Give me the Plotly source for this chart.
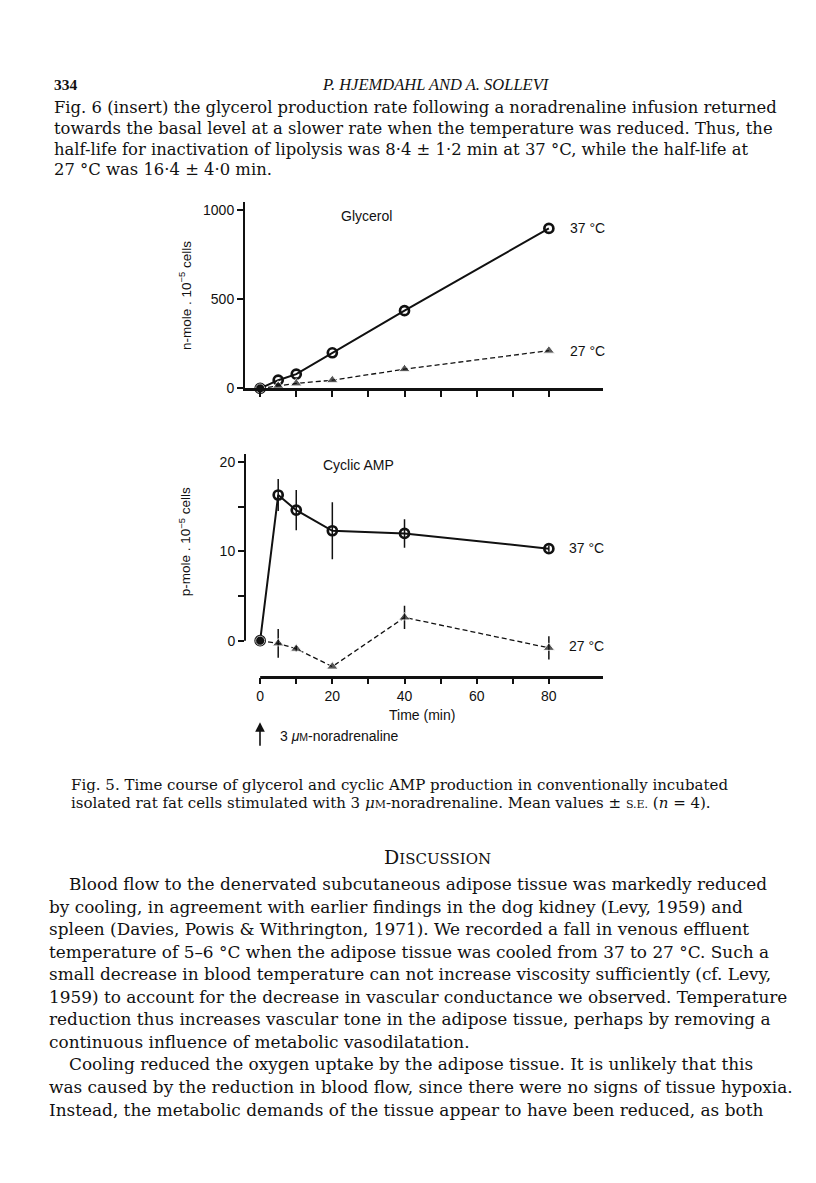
import plotly.graph_objects as go

W, H = 816, 1183

# ---------------- data ----------------
time_min = [0, 5, 10, 20, 40, 80]
glycerol_37 = [0, 46, 80, 200, 436, 898]
glycerol_27 = [0, 15, 28, 46, 108, 212]

camp_37 = [0, 16.3, 14.6, 12.3, 12.0, 10.3]
camp_37_se = [0, 1.8, 2.25, 3.2, 1.6, 0.35]
camp_27 = [0, -0.3, -0.9, -2.9, 2.6, -0.8]
camp_27_se = [0, 1.6, 0.3, 0, 1.3, 1.3]

x_tick_vals = [0, 10, 20, 30, 40, 50, 60, 70, 80]
x_tick_text = ["0", "", "20", "", "40", "", "60", "", "80"]
gly_tick_vals = [0, 500, 1000]
camp_tick_vals = [0, 5, 10, 15, 20]
camp_tick_text = ["0", "", "10", "", "20"]

header_left = "334"
header_title = "P. HJEMDAHL AND A. SOLLEVI"
top_para = [
    "Fig. 6 (insert) the glycerol production rate following a noradrenaline infusion returned",
    "towards the basal level at a slower rate when the temperature was reduced. Thus, the",
    "half-life for inactivation of lipolysis was 8·4 ± 1·2 min at 37 °C, while the half-life at",
    "27 °C was 16·4 ± 4·0 min.",
]
caption = [
    "Fig. 5. Time course of glycerol and cyclic AMP production in conventionally incubated",
    "isolated rat fat cells stimulated with 3 <i>μ</i><span style='font-size:11px'>M</span>-noradrenaline. Mean values ± <span style='font-size:11px'>S.E.</span> (<i>n</i> = 4).",
]
section = "D<span style='font-size:15px'>ISCUSSION</span>"
body = [
    ("Blood flow to the denervated subcutaneous adipose tissue was markedly reduced", True),
    ("by cooling, in agreement with earlier findings in the dog kidney (Levy, 1959) and", False),
    ("spleen (Davies, Powis & Withrington, 1971). We recorded a fall in venous effluent", False),
    ("temperature of 5–6 °C when the adipose tissue was cooled from 37 to 27 °C. Such a", False),
    ("small decrease in blood temperature can not increase viscosity sufficiently (cf. Levy,", False),
    ("1959) to account for the decrease in vascular conductance we observed. Temperature", False),
    ("reduction thus increases vascular tone in the adipose tissue, perhaps by removing a", False),
    ("continuous influence of metabolic vasodilatation.", False),
    ("Cooling reduced the oxygen uptake by the adipose tissue. It is unlikely that this", True),
    ("was caused by the reduction in blood flow, since there were no signs of tissue hypoxia.", False),
    ("Instead, the metabolic demands of the tissue appear to have been reduced, as both", False),
]


def px(x):
    return x / W


def py(y):
    return 1 - y / H


SANS = "Liberation Sans, Arial, sans-serif"
SERIF = "DejaVu Serif, serif"
TSERIF = "Liberation Serif, Times New Roman, serif"
BLACK = "#111111"

fig = go.Figure()

sym37 = ["circle"] + ["circle-open"] * 5
sym27 = ["circle"] + ["triangle-up"] * 5
size27 = [9, 10, 10, 10, 10, 10]

# glycerol
fig.add_trace(go.Scatter(
    x=time_min, y=glycerol_37, xaxis="x", yaxis="y", mode="lines+markers",
    line=dict(color=BLACK, width=2),
    marker=dict(symbol=sym37, size=9, color=BLACK, line=dict(color=BLACK, width=2.7)),
    cliponaxis=False, showlegend=False))
fig.add_trace(go.Scatter(
    x=time_min, y=glycerol_27, xaxis="x", yaxis="y", mode="lines+markers",
    line=dict(color=BLACK, width=1.3, dash="5px,3px"),
    marker=dict(symbol=sym27, size=size27, color=BLACK),
    cliponaxis=False, showlegend=False))

# cyclic AMP
fig.add_trace(go.Scatter(
    x=time_min, y=camp_37, xaxis="x2", yaxis="y2", mode="lines+markers",
    line=dict(color=BLACK, width=2),
    error_y=dict(type="data", array=camp_37_se, visible=True, color=BLACK, thickness=1.5, width=0),
    marker=dict(symbol=sym37, size=9, color=BLACK, line=dict(color=BLACK, width=2.7)),
    cliponaxis=False, showlegend=False))
fig.add_trace(go.Scatter(
    x=time_min, y=camp_27, xaxis="x2", yaxis="y2", mode="lines+markers",
    line=dict(color=BLACK, width=1.3, dash="5px,3px"),
    error_y=dict(type="data", array=camp_27_se, visible=True, color=BLACK, thickness=1.5, width=0),
    marker=dict(symbol=sym27, size=size27, color=BLACK),
    cliponaxis=False, showlegend=False))

X_LEFT = 237
X_DOM = [px(X_LEFT), px(595)]
X_RANGE = [-4.2, 95]
tickfont = dict(family=SANS, size=14, color=BLACK)

fig.update_layout(
    width=W, height=H, margin=dict(l=0, r=0, t=0, b=0),
    paper_bgcolor="white", plot_bgcolor="rgba(0,0,0,0)",
    xaxis=dict(domain=X_DOM, range=X_RANGE, anchor="y", showline=True, linewidth=3,
               linecolor=BLACK, ticks="outside", ticklen=6, tickwidth=1.5, tickcolor=BLACK,
               tickvals=x_tick_vals, showticklabels=False, showgrid=False, zeroline=False),
    yaxis=dict(domain=[py(383), py(195)], range=[0, 1048], anchor="x", showline=True,
               linewidth=2, linecolor=BLACK, ticks="outside", ticklen=6, tickwidth=1.5,
               tickcolor=BLACK, tickvals=gly_tick_vals, tickfont=tickfont,
               showgrid=False, zeroline=False),
    xaxis2=dict(domain=X_DOM, range=X_RANGE, anchor="y2", showline=False,
                ticks="outside", ticklen=6, tickwidth=1.5, tickcolor=BLACK,
                tickvals=x_tick_vals, ticktext=x_tick_text, tickfont=tickfont,
                showgrid=False, zeroline=False),
    yaxis2=dict(domain=[py(674), py(449)], range=[-4.11, 20.89], anchor="x2", showline=False,
                ticks="outside", ticklen=6, tickwidth=1.5, tickcolor=BLACK,
                tickvals=camp_tick_vals, ticktext=camp_tick_text, tickfont=tickfont,
                showgrid=False, zeroline=False),
)

shapes = [
    dict(type="line", xref="x2", yref="paper", x0=0, x1=95, y0=py(674), y1=py(674),
         line=dict(color=BLACK, width=3)),
    dict(type="line", xref="paper", yref="y2", x0=px(X_LEFT), x1=px(X_LEFT), y0=0, y1=20.89,
         line=dict(color=BLACK, width=2)),
]
fig.update_layout(shapes=shapes)

ann = []


def text(x, y, s, size, family=SANS, xanchor="center", angle=0):
    ann.append(dict(x=px(x), y=py(y), xref="paper", yref="paper", text=s, showarrow=False,
                    xanchor=xanchor, yanchor="middle", textangle=angle,
                    font=dict(family=family, size=size, color=BLACK)))


# chart labels
text(358, 209, "Glycerol", 14)
text(350, 460, "Cyclic AMP", 14)
text(560, 221, "37 °C", 14, xanchor="left")
text(560, 345, "27 °C", 14, xanchor="left")
text(559, 544, "37 °C", 14, xanchor="left")
text(559, 642, "27 °C", 14, xanchor="left")
text(177, 290, "n-mole . 10<sup>−5</sup> cells", 13.5, angle=-90)
text(177, 538, "p-mole . 10<sup>−5</sup> cells", 13.5, angle=-90)
text(414, 712, "Time (min)", 14)
text(270, 733, "3 <i>μ</i><span style='font-size:10.5px'>M</span>-noradrenaline", 14, xanchor="left")
ann.append(dict(x=px(252), y=py(719), xref="paper", yref="paper", ax=0, ay=25,
                axref="pixel", ayref="pixel", text="", showarrow=True, arrowhead=2,
                arrowsize=1.2, arrowwidth=1.6, arrowcolor=BLACK))

# page text
text(44, 77, "<b>" + header_left + "</b>", 15.5, family=TSERIF, xanchor="left")
text(428, 77, "<i>" + header_title + "</i>", 16.5, family=TSERIF)
for i, line in enumerate(top_para):
    text(44, 100 + 21 * i, line, 16.4, family=SERIF, xanchor="left")
for i, line in enumerate(caption):
    text(61, 782 + 18.5 * i, line, 15, family=SERIF, xanchor="left")
text(429, 855, section, 19, family=SERIF)
for i, (line, indent) in enumerate(body):
    text(59 if indent else 39, 882 + 22.7 * i, line, 16.9, family=SERIF, xanchor="left")

fig.update_layout(annotations=ann)
fig.write_html("out.html")
